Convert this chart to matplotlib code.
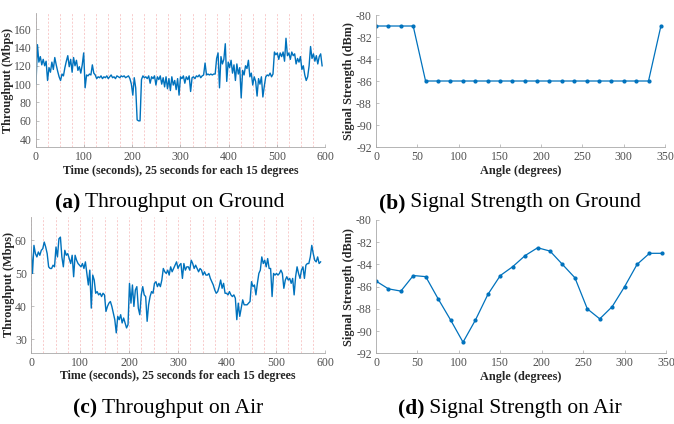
import numpy as np
import matplotlib
matplotlib.use("Agg")
import matplotlib.pyplot as plt

plt.rcParams['font.family'] = ['Liberation Serif', 'DejaVu Serif']
plt.rcParams['axes.unicode_minus'] = False

# throughput on ground, one value every 3 s (Mbps)
ground_tput = [100, 143, 124, 130, 121, 127, 120, 125, 104, 118, 113, 124, 116, 129, 121, 114, 108, 104,
               111, 109, 118, 125, 131, 119, 127, 113, 129, 120, 126, 115, 119, 112, 121, 134, 96, 110,
               109, 111, 110, 121, 112, 110, 106, 108, 107, 109, 106, 108, 107, 109, 106, 108, 110, 107,
               108, 106, 109, 108, 107, 109, 108, 109, 107, 108, 109, 106, 100, 88, 107, 96, 61, 60,
               60, 105, 109, 107, 108, 106, 109, 101, 108, 106, 109, 99, 108, 105, 109, 100, 107, 97,
               108, 95, 106, 93, 108, 99, 104, 94, 106, 88, 108, 106, 109, 101, 108, 105, 109, 92,
               107, 108, 106, 109, 108, 110, 107, 109, 110, 123, 110, 111, 110, 111, 110, 111, 111, 128,
               134, 96, 130, 122, 127, 144, 103, 124, 118, 126, 112, 121, 104, 122, 111, 118, 85, 115,
               110, 120, 117, 126, 108, 112, 99, 108, 103, 87, 106, 100, 108, 86, 98, 108, 110, 109,
               112, 108, 111, 135, 132, 134, 127, 134, 130, 135, 125, 150, 131, 134, 127, 135, 131, 133,
               122, 128, 124, 130, 116, 120, 110, 104, 108, 120, 141, 128, 133, 125, 131, 122, 130, 133,
               120]

# throughput on air, one value every 3 s (Mbps)
air_tput = [58, 50, 58.5, 56, 55, 56.5, 55.5, 57, 57.5, 59.5, 58, 56, 52, 51.5, 51.5, 52.5, 52, 58,
            55, 60.5, 61, 55, 52, 57, 55.5, 56, 54.5, 53, 55.5, 49, 55.5, 54, 53, 52.5, 52, 53,
            51.5, 53.5, 50, 46.5, 51, 39.5, 49.5, 48, 44, 44.5, 43.5, 44, 43, 44, 43.5, 38.5, 40, 41,
            41.5, 40, 38, 36, 32, 37, 36, 37.5, 35, 36.5, 35, 33.5, 34.5, 47, 41, 46.5, 40, 45,
            46, 39.5, 37.5, 43.5, 46, 43.5, 43, 35.5, 40.5, 43, 44.5, 44, 47, 47.5, 46, 47, 46, 48,
            51.5, 50.5, 50, 51, 49.5, 52, 50.5, 51.5, 52.5, 53.5, 51.5, 52.5, 53, 48.5, 53, 51, 52, 52,
            51, 54, 53, 51.5, 52.5, 51.5, 50.5, 51.5, 51, 49.5, 50.5, 49.5, 49.5, 50, 48.5, 47.5, 46.5, 45,
            44, 44.5, 46, 48, 45.5, 47, 44, 44, 43.5, 44.5, 43.5, 43, 43.5, 42.5, 36, 41, 37, 39.5,
            42, 40.5, 40.5, 40.5, 41, 41.5, 47.5, 46, 46.5, 43.5, 47, 50, 51, 55, 53, 54, 52, 54.5,
            51.5, 51.5, 43, 50, 49.5, 50, 49.5, 50, 51, 50, 45.5, 48, 49, 48, 48.5, 47, 48.5, 43.5,
            49, 52, 50, 48.5, 51, 52, 48.5, 52.5, 53, 53, 55, 58.5, 56, 54, 53.5, 55, 53, 53.5]

step_s = 3
marks_s = list(range(0, 600, 25))

angles = list(range(0, 360, 15))
ground_rssi = [-81, -81, -81, -81, -86, -86, -86, -86, -86, -86, -86, -86,
               -86, -86, -86, -86, -86, -86, -86, -86, -86, -86, -86, -81]
air_rssi = [-85.5, -86.2, -86.4, -85.0, -85.1, -87.1, -89.0, -91.0, -89.0, -86.7, -85.0, -84.2,
            -83.2, -82.5, -82.8, -84.0, -85.2, -88.0, -88.9, -87.8, -86.0, -84.0, -83.0, -83.0]

blue = '#0072BD'
tick_col = '#505050'
spine_col = '#a8a8a8'


def style(ax):
    for s in ['top', 'right']:
        ax.spines[s].set_visible(False)
    for s in ['left', 'bottom']:
        ax.spines[s].set_color(spine_col)
        ax.spines[s].set_linewidth(0.6)
    ax.tick_params(direction='in', length=2.5, width=0.5, color=spine_col,
                   labelcolor=tick_col, labelsize=8.5, pad=3)


def tput_panel(ax, vals, ylim, yticks):
    t = np.arange(len(vals)) * step_s
    for m in marks_s:
        ax.axvline(m, color='#f08a8a', lw=0.6, ls=(0, (2.5, 2)), alpha=0.5, zorder=1)
    ax.plot(t, vals, color=blue, lw=1.0, zorder=2)
    ax.set_xlim(0, 600)
    ax.set_ylim(*ylim)
    ax.set_xticks(range(0, 601, 100))
    ax.set_yticks(yticks)
    ax.set_xlabel('Time (seconds), 25 seconds for each 15 degrees', fontweight='bold',
                  fontsize=8.6, color='#262626', labelpad=1)
    ax.set_ylabel('Throughput (Mbps)', fontweight='bold', fontsize=8.8, color='#262626', labelpad=0)
    style(ax)


def rssi_panel(ax, vals):
    ax.plot(angles, vals, color=blue, lw=0.9, marker='.', ms=4)
    ax.set_xlim(0, 350)
    ax.set_ylim(-92, -80)
    ax.set_xticks(range(0, 351, 50))
    ax.set_yticks(range(-92, -79, 2))
    ax.set_xlabel('Angle (degrees)', fontweight='bold', fontsize=8.8, color='#262626', labelpad=1)
    ax.set_ylabel('Signal Strength (dBm)', fontweight='bold', fontsize=8.8, color='#262626', labelpad=1)
    style(ax)


fig = plt.figure(figsize=(6.74, 4.24), dpi=100)
ax_a = fig.add_axes([0.0534, 0.6533, 0.4288, 0.3160])
ax_b = fig.add_axes([0.5579, 0.6533, 0.4288, 0.3113])
ax_c = fig.add_axes([0.0460, 0.1682, 0.4362, 0.3193])
ax_d = fig.add_axes([0.5579, 0.1667, 0.4303, 0.3145])

tput_panel(ax_a, ground_tput, (31.5, 177.5), range(40, 161, 20))
rssi_panel(ax_b, ground_rssi)
tput_panel(ax_c, air_tput, (26, 67), range(30, 61, 10))
rssi_panel(ax_d, air_rssi)

captions = [('(a)', 'Throughput on Ground', 170, 203),
            ('(b)', 'Signal Strength on Ground', 510, 203),
            ('(c)', 'Throughput on Air', 168, 408),
            ('(d)', 'Signal Strength on Air', 510, 408)]

fig.canvas.draw()
r = fig.canvas.get_renderer()
for tag, txt, cx, cy in captions:
    t1 = fig.text(0, 0, tag, fontsize=15.5, fontweight='bold', va='center')
    t2 = fig.text(0, 0, ' ' + txt, fontsize=15.5, va='center')
    w1 = t1.get_window_extent(r).width
    w2 = t2.get_window_extent(r).width
    x0 = cx - (w1 + w2) / 2
    y = 1 - cy / 424
    t1.set_position((x0 / 674, y))
    t2.set_position(((x0 + w1) / 674, y))

fig.savefig('out.png', dpi=100)
